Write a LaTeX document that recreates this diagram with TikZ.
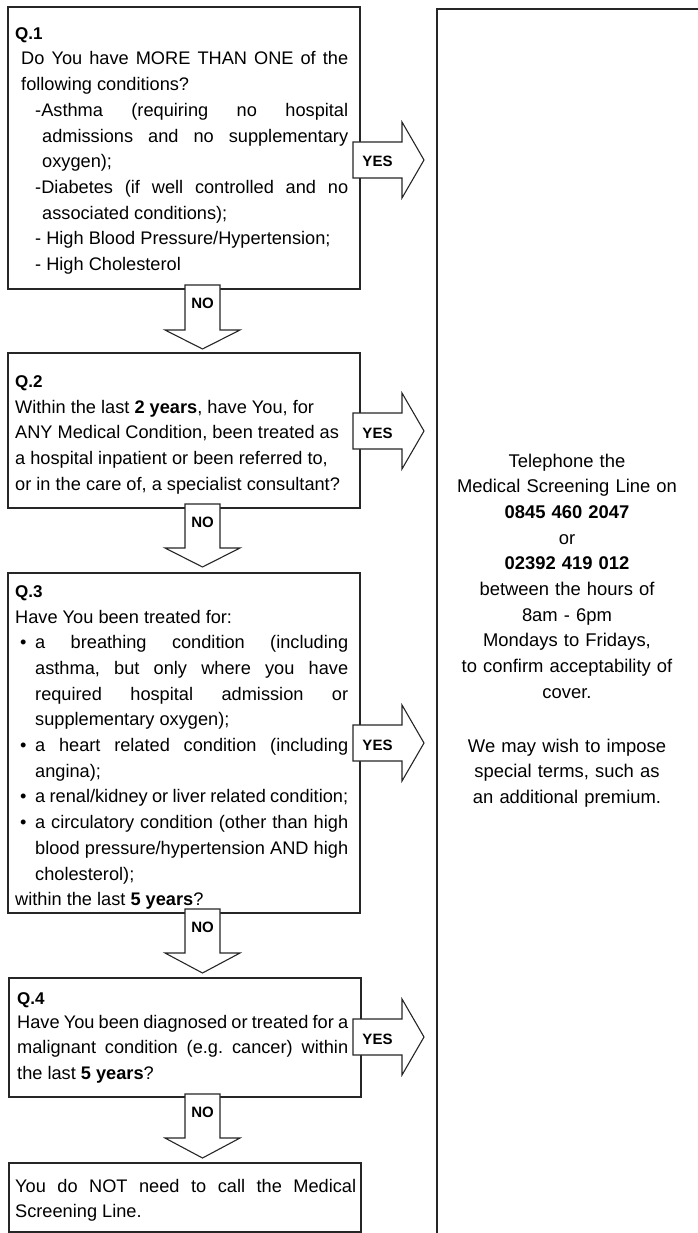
\documentclass[tikz,border=0pt]{standalone}
\usepackage{fontspec}
\setmainfont{Liberation Sans}
\frenchspacing
\newcommand\bodyfont{\fontsize{18.2}{25.7}\selectfont\frenchspacing\spaceskip=0.278em plus 0.3em minus 0.13em\relax}
\newcommand\NoArrow[4]{%
  \draw[blockarr] (185,#2) -- (220,#2) -- (220,#3) -- (240,#3) -- (202.5,#4) -- (165,#3) -- (185,#3) -- cycle;
  \node[arrlbl] (#1) at (202.5,#2+23) {NO};}
\newcommand\YesArrow[2]{%
  \draw[blockarr] (353,#2-18) -- (402,#2-18) -- (402,#2-38) -- (424,#2) -- (402,#2+38) -- (402,#2+18) -- (353,#2+18) -- cycle;
  \node[arrlbl] (#1) at (377.5,#2+7) {YES};}
\begin{document}
\begin{tikzpicture}[x=1pt,y=-1pt,
  frame/.style={draw=black!85, line width=1.2pt},
  qbox/.style={frame, fill=white, rectangle, anchor=north west, inner sep=0pt, outer sep=0pt},
  blockarr/.style={draw=black!85, line width=1.1pt, fill=white, line join=miter},
  arrlbl/.style={anchor=base, inner sep=0pt, font=\fontsize{15}{18}\selectfont\bfseries},
  qlabel/.style={anchor=base west, inner sep=0pt, font=\fontsize{17}{20}\selectfont\bfseries},
  body/.style={anchor=base west, inner sep=0pt, align=justify, font=\bodyfont},
]
\useasboundingbox (0,0) rectangle (697,1233);

% right panel
\draw[frame] (437,1240) -- (437,9) -- (705,9);
\node[anchor=base, inner sep=0pt, text width=260, align=center,
      font=\fontsize{18.4}{25.7}\selectfont] (info) at (567,467)
  {Telephone the\\Medical Screening Line on\\\textbf{0845 460 2047}\\or\\\textbf{02392 419 012}\\between the hours of\\8am - 6pm\\Mondays to Fridays,\\to confirm acceptability of\\cover.\\[28pt]We may wish to impose\\special terms, such as\\an additional premium.};

% question boxes
\node[qbox, minimum width=352, minimum height=282] (q1) at (8,7) {};
\node[qbox, minimum width=352, minimum height=155] (q2) at (8,353) {};
\node[qbox, minimum width=352, minimum height=340] (q3) at (8,573) {};
\node[qbox, minimum width=352, minimum height=119] (q4) at (9,978) {};
\node[qbox, minimum width=352, minimum height=69]  (q5) at (9,1163) {};

% arrows
\NoArrow{no1}{285}{330}{349}
\NoArrow{no2}{504}{548}{567}
\NoArrow{no3}{909}{953}{973}
\NoArrow{no4}{1094}{1138}{1158}
\YesArrow{yes1}{160}
\YesArrow{yes2}{431}
\YesArrow{yes3}{743}
\YesArrow{yes4}{1037}

% texts
\node[qlabel] (l1) at (15,40) {Q.1};
\node[body, text width=327] (t1) at (21,65)
  {Do You have MORE THAN ONE of the\linebreak following conditions?\par
   {\leftskip=14pt\hangindent=7pt\hangafter=1 -Asthma (requiring no hospital\linebreak admissions and no supplementary\linebreak oxygen);\par}
   {\leftskip=14pt\hangindent=7pt\hangafter=1 -Diabetes (if well controlled and no\linebreak associated conditions);\par}
   {\leftskip=14pt - High Blood Pressure/Hypertension;\par}
   {\leftskip=14pt - High Cholesterol\par}};

\node[qlabel] (l2) at (15,387) {Q.2};
\node[body, text width=333] (t2) at (15,413)
  {Within the last \textbf{2 years}, have You, for\newline ANY Medical Condition, been treated as\newline a hospital inpatient or been referred to,\newline or in the care of, a specialist consultant?};

\node[qlabel] (l3) at (15,597) {Q.3};
\node[body, text width=333] (t3) at (15,623)
  {Have You been treated for:\par
   {\leftskip=5pt\hangindent=15pt\hangafter=1 \makebox[15pt][l]{•}a breathing condition (including\linebreak asthma, but only where you have\linebreak required hospital admission or\linebreak supplementary oxygen);\par}
   {\leftskip=5pt\hangindent=15pt\hangafter=1 \makebox[15pt][l]{•}a heart related condition (including\linebreak angina);\par}
   {\leftskip=5pt\hangindent=15pt\hangafter=1 \makebox[15pt][l]{•}a renal/kidney or liver related condition;\par}
   {\leftskip=5pt\hangindent=15pt\hangafter=1 \makebox[15pt][l]{•}a circulatory condition (other than high\linebreak blood pressure/hypertension AND high\linebreak cholesterol);\par}
   within the last \textbf{5 years}?};

\node[qlabel] (l4) at (17,1004) {Q.4};
\node[body, text width=331] (t4) at (17,1028)
  {Have You been diagnosed or treated for a\linebreak malignant condition (e.g. cancer) within\linebreak the last \textbf{5 years}?};

\node[body, text width=341] (t5) at (15,1192)
  {You do NOT need to call the Medical\linebreak Screening Line.};
\end{tikzpicture}
\end{document}
